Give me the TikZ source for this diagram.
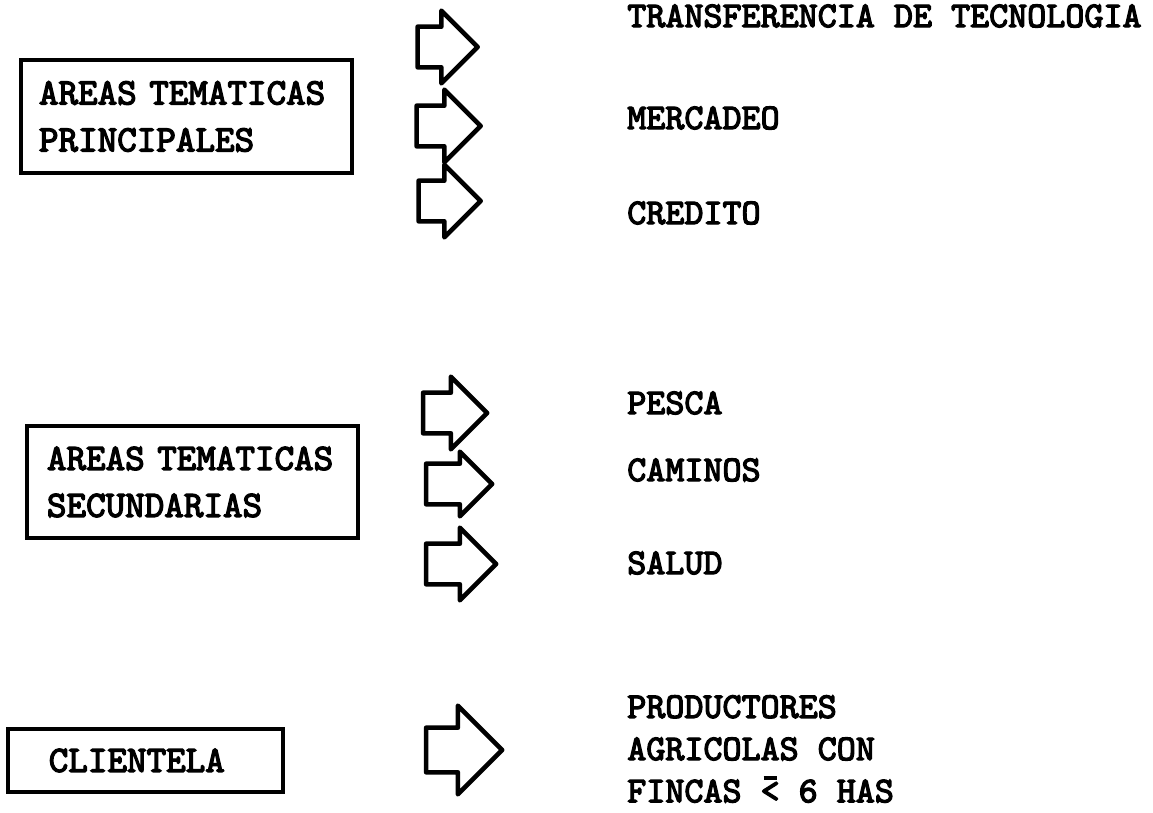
\documentclass[tikz,border=0pt]{standalone}
\usepackage{fontspec}
\usetikzlibrary{shapes.arrows, positioning}
\newfontfamily\typewr{lmmono10-regular.otf}[FakeBold=3.5]
\newcommand{\barless}{\leavevmode\rlap{\hspace{0.08em}\raisebox{0.62em}{\rule{0.36em}{0.1em}}}<}

\begin{document}
\begin{tikzpicture}[x=0.025cm, y=-0.025cm]
\tikzstyle{topic} = [rectangle, draw=black, line width=2.4pt, align=left, font={\fontsize{26.5pt}{33.4pt}\typewr}]
\tikzstyle{item} = [inner sep=0pt, anchor=west, align=left, font={\fontsize{25.8pt}{30pt}\typewr}]
\tikzstyle{blockarrow} = [single arrow, draw=black, line width=3.3pt, line join=round, inner xsep=0pt, inner ysep=0.45cm, single arrow head extend=0.4cm, minimum height=1.6cm]

\useasboundingbox (0,0) rectangle (1153,813);

% boxes on the left
\node (main) [topic, minimum width=8.275cm, minimum height=2.825cm, inner xsep=0.45cm, text width=7.375cm] at (186.5,116.5) {AREAS TEMATICAS\\PRINCIPALES};
\node (second) [topic, minimum width=8.275cm, minimum height=2.8cm, inner xsep=0.5cm, text width=7.275cm] at (192.5,482) {AREAS TEMATICAS\\SECUNDARIAS};
\node (client) [topic, minimum width=6.875cm, minimum height=1.575cm, inner xsep=1.02cm, text width=4.835cm] at (145.5,760.5) {CLIENTELA};

% arrows
\node (arr1) [blockarrow, minimum height=1.5cm] at (437.5,47) {};
\node (arr2) [blockarrow] at (438.5,126) {};
\node (arr3) [blockarrow, minimum height=1.55cm] at (439.5,201) {};
\node (arr4) [blockarrow] at (445,413) {};
\node (arr5) [blockarrow, minimum height=1.65cm, single arrow head extend=0.3cm] at (449,484) {};
\node (arr6) [blockarrow, minimum height=1.75cm] at (451,564) {};
\node (arr7) [blockarrow, minimum height=1.9cm, inner ysep=0.5cm, single arrow head extend=0.55cm] at (453,750) {};

% items on the right
\node (tech) [item] at (627,16) {TRANSFERENCIA DE TECNOLOGIA};
\node (market) [item] at (627,118) {MERCADEO};
\node (credit) [item] at (627,213) {CREDITO};
\node (fish) [item] at (627,403) {PESCA};
\node (roads) [item] at (627,470) {CAMINOS};
\node (health) [item] at (627,563) {SALUD};
\node (farmers) [item] at (627,749) {PRODUCTORES\\AGRICOLAS CON\\FINCAS \barless{} 6 HAS};
\end{tikzpicture}
\end{document}
